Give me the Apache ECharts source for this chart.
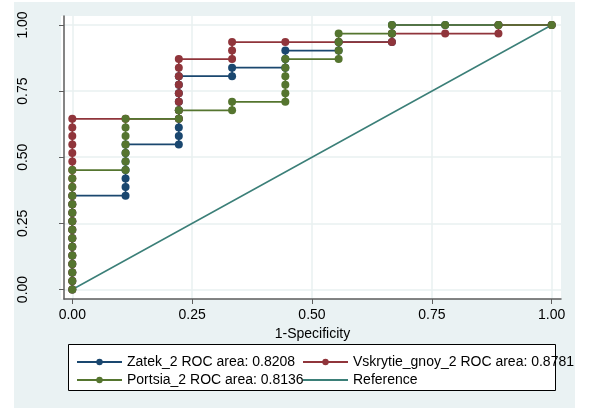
<!DOCTYPE html>
<html>
<head>
<meta charset="utf-8">
<script src="https://cdn.jsdelivr.net/npm/echarts@6/dist/echarts.min.js"></script>
<style>
  html, body { margin: 0; padding: 0; background: #ffffff; }
  #chart { width: 589px; height: 408px; }
</style>
</head>
<body>
<div id="chart"></div>
<script>
// ROC curves: 1-specificity (x) against sensitivity (y) for three predictors
const zatekFpr = [0, 0, 0, 0, 0, 0, 0, 0, 0, 0, 0, 0,
  0.1111, 0.1111, 0.1111, 0.1111, 0.1111, 0.1111, 0.1111,
  0.2222, 0.2222, 0.2222, 0.2222, 0.2222, 0.2222, 0.2222, 0.2222, 0.2222,
  0.3333, 0.3333, 0.4444, 0.4444, 0.4444, 0.5556, 0.5556,
  0.6667, 0.6667, 0.6667, 0.7778, 0.8889, 1];
const zatekSens = [0, 0.0323, 0.0645, 0.0968, 0.1290, 0.1613, 0.1935, 0.2258, 0.2581, 0.2903, 0.3226, 0.3548,
  0.3548, 0.3871, 0.4194, 0.4516, 0.4839, 0.5161, 0.5484,
  0.5484, 0.5806, 0.6129, 0.6452, 0.6774, 0.7097, 0.7419, 0.7742, 0.8065,
  0.8065, 0.8387, 0.8387, 0.8710, 0.9032, 0.9032, 0.9355,
  0.9355, 0.9677, 1, 1, 1, 1];

const vskrytieFpr = [0, 0, 0, 0, 0, 0, 0, 0, 0, 0, 0, 0, 0, 0, 0, 0, 0, 0, 0, 0, 0,
  0.1111,
  0.2222, 0.2222, 0.2222, 0.2222, 0.2222, 0.2222, 0.2222, 0.2222,
  0.3333, 0.3333, 0.3333, 0.4444, 0.5556, 0.6667, 0.6667,
  0.7778, 0.8889, 0.8889, 1];
const vskrytieSens = [0, 0.0323, 0.0645, 0.0968, 0.1290, 0.1613, 0.1935, 0.2258, 0.2581, 0.2903, 0.3226,
  0.3548, 0.3871, 0.4194, 0.4516, 0.4839, 0.5161, 0.5484, 0.5806, 0.6129, 0.6452,
  0.6452,
  0.6452, 0.6774, 0.7097, 0.7419, 0.7742, 0.8065, 0.8387, 0.8710,
  0.8710, 0.9032, 0.9355, 0.9355, 0.9355, 0.9355, 0.9677,
  0.9677, 0.9677, 1, 1];

const portsiaFpr = [0, 0, 0, 0, 0, 0, 0, 0, 0, 0, 0, 0, 0, 0, 0,
  0.1111, 0.1111, 0.1111, 0.1111, 0.1111, 0.1111, 0.1111,
  0.2222, 0.2222, 0.3333, 0.3333,
  0.4444, 0.4444, 0.4444, 0.4444, 0.4444, 0.4444,
  0.5556, 0.5556, 0.5556, 0.5556, 0.6667, 0.6667,
  0.7778, 0.8889, 1];
const portsiaSens = [0, 0.0323, 0.0645, 0.0968, 0.1290, 0.1613, 0.1935, 0.2258, 0.2581, 0.2903, 0.3226, 0.3548, 0.3871, 0.4194, 0.4516,
  0.4516, 0.4839, 0.5161, 0.5484, 0.5806, 0.6129, 0.6452,
  0.6452, 0.6774, 0.6774, 0.7097,
  0.7097, 0.7419, 0.7742, 0.8065, 0.8387, 0.8710,
  0.8710, 0.9032, 0.9355, 0.9677, 0.9677, 1,
  1, 1, 1];

const referenceX = [0, 1];
const referenceY = [0, 1];

const tickValues = [0, 0.25, 0.5, 0.75, 1];
const seriesNames = [
  'Zatek_2 ROC area: 0.8208',
  'Vskrytie_gnoy_2 ROC area: 0.8781',
  'Portsia_2 ROC area: 0.8136',
  'Reference'
];
const xTitle = '1-Specificity';

const FONT = '"Liberation Sans", Arial, sans-serif';
const colors = ['#1a476f', '#90353b', '#55752f', '#3b7f78'];

function pairs(xs, ys) {
  return xs.map((x, i) => [x, ys[i]]);
}

function rocSeries(name, xs, ys, color) {
  return {
    name: name,
    type: 'line',
    data: pairs(xs, ys),
    symbol: 'circle',
    symbolSize: 8,
    showAllSymbol: true,
    color: color,
    itemStyle: { color: color },
    lineStyle: { color: color, width: 1.7 },
    emphasis: { disabled: true },
    animation: false
  };
}

// one legend block per entry, laid out as a 2x2 key
function legendAt(name, left, top, hideMarker) {
  const item = hideMarker ? { name: name, itemStyle: { opacity: 0 } } : name;
  return {
    data: [item],
    left: left,
    top: top,
    z: 20,
    itemWidth: 45,
    itemHeight: 8,
    selectedMode: false,
    padding: 0,
    textStyle: { fontSize: 14, color: '#000', fontFamily: FONT }
  };
}

const chart = echarts.init(document.getElementById('chart'), null, { renderer: 'canvas' });

chart.setOption({
  backgroundColor: '#ffffff',
  animation: false,
  graphic: [
    { type: 'rect', z: -10, shape: { x: 14, y: 2, width: 561, height: 406 }, style: { fill: '#eaf2f3' } },
    { type: 'rect', z: -9, shape: { x: 61, y: 16, width: 500, height: 283 }, style: { fill: '#ffffff' } },
    { type: 'rect', z: 1, shape: { x: 68.5, y: 344.5, width: 487, height: 46 }, style: { fill: '#ffffff', stroke: '#000', lineWidth: 1 } }
  ],
  grid: { left: 64, top: 16, right: 28, bottom: 109, containLabel: false },
  xAxis: {
    type: 'value',
    min: -0.0173,
    max: 1.0194,
    name: xTitle,
    nameLocation: 'middle',
    nameGap: 22,
    nameTextStyle: { fontSize: 14, color: '#000', fontFamily: FONT },
    axisLine: { show: true, onZero: false, lineStyle: { color: '#5c5c5c', width: 1.5 } },
    axisTick: { show: true, length: 5, customValues: tickValues, lineStyle: { color: '#5c5c5c', width: 1 } },
    axisLabel: { customValues: tickValues, margin: 9, fontSize: 14, color: '#000', fontFamily: FONT,
      formatter: v => v.toFixed(2) },
    splitLine: { show: true, lineStyle: { color: '#e8f0f1', width: 1.5 } }
  },
  yAxis: {
    type: 'value',
    min: -0.0359,
    max: 1.0340,
    axisLine: { show: true, onZero: false, lineStyle: { color: '#5c5c5c', width: 1.5 } },
    axisTick: { show: true, length: 5, customValues: tickValues, lineStyle: { color: '#5c5c5c', width: 1 } },
    axisLabel: { customValues: tickValues, rotate: 90, margin: 34, fontSize: 14, color: '#000', fontFamily: FONT,
      formatter: v => v.toFixed(2) },
    splitLine: { show: true, lineStyle: { color: '#e8f0f1', width: 1.5 } }
  },
  legend: [
    legendAt(seriesNames[0], 76, 355, false),
    legendAt(seriesNames[1], 302, 355, false),
    legendAt(seriesNames[2], 76, 373, false),
    legendAt(seriesNames[3], 302, 373, true)
  ],
  series: [
    rocSeries(seriesNames[0], zatekFpr, zatekSens, colors[0]),
    rocSeries(seriesNames[1], vskrytieFpr, vskrytieSens, colors[1]),
    rocSeries(seriesNames[2], portsiaFpr, portsiaSens, colors[2]),
    {
      name: seriesNames[3],
      type: 'line',
      data: pairs(referenceX, referenceY),
      symbol: 'none',
      color: colors[3],
      lineStyle: { color: colors[3], width: 1.5 },
      emphasis: { disabled: true },
      animation: false
    }
  ]
});
</script>
</body>
</html>
